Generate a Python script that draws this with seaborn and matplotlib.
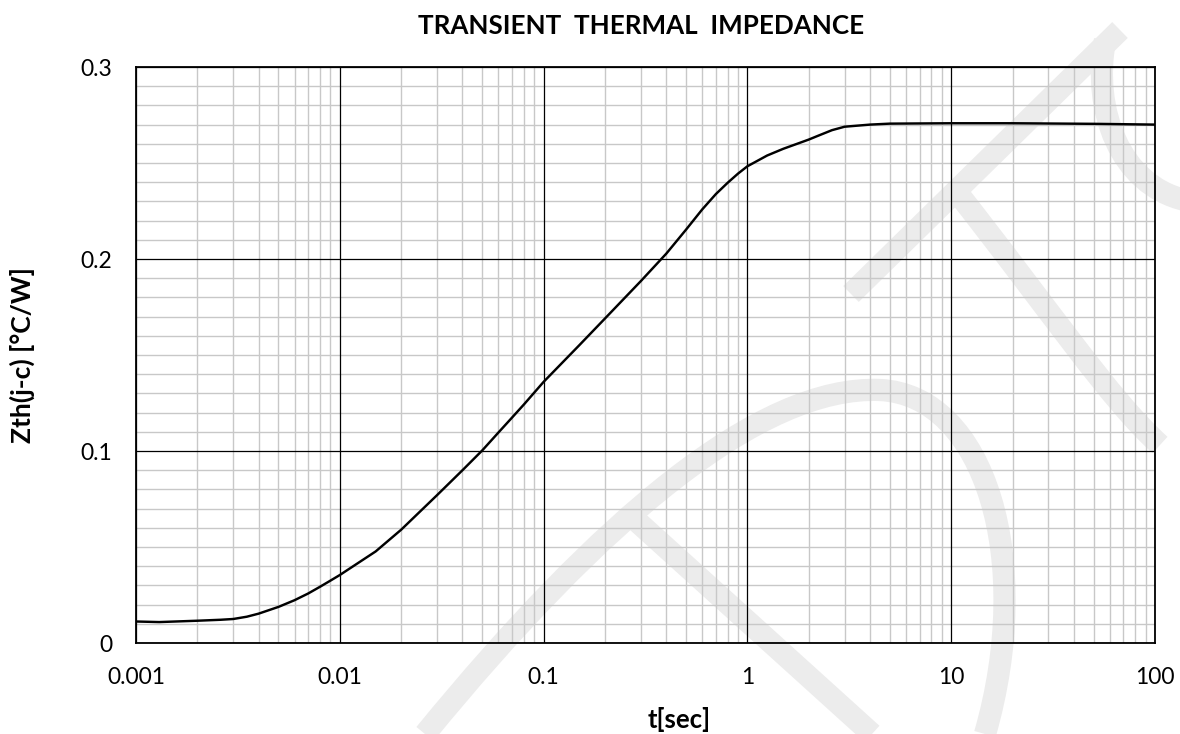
import matplotlib
matplotlib.use("Agg")
import matplotlib.pyplot as plt
import numpy as np
import pandas as pd
import seaborn as sns
from matplotlib.path import Path
from matplotlib.patches import PathPatch
from matplotlib.ticker import LogLocator, MultipleLocator, NullFormatter

# ---------------- data ----------------
t_sec = [0.001, 0.0013, 0.002, 0.0026, 0.003, 0.0035, 0.004, 0.005, 0.006, 0.007,
         0.008, 0.009, 0.01, 0.015, 0.02, 0.03, 0.04, 0.05, 0.06, 0.07,
         0.08, 0.1, 0.15, 0.2, 0.3, 0.4, 0.5, 0.6, 0.7, 0.8,
         0.9, 1.0, 1.25, 1.5, 2.0, 2.2, 2.6, 3.0, 4.0, 5.0,
         10.0, 20.0, 50.0, 100.0]
zth = [0.0112, 0.0109, 0.0116, 0.0121, 0.0125, 0.0137, 0.0153, 0.0188, 0.0223, 0.0258,
       0.0293, 0.0325, 0.0354, 0.0477, 0.0590, 0.0770, 0.0900, 0.1003, 0.1096, 0.1174,
       0.1242, 0.1360, 0.1552, 0.1690, 0.1885, 0.2028, 0.2153, 0.2258, 0.2338, 0.2397,
       0.2445, 0.2483, 0.2539, 0.2574, 0.2622, 0.2640, 0.2671, 0.2689, 0.2700, 0.2705,
       0.2707, 0.2707, 0.2704, 0.2700]

x_ticks = [0.001, 0.01, 0.1, 1, 10, 100]
x_tick_labels = ["0.001", "0.01", "0.1", "1", "10", "100"]
y_ticks = [0, 0.1, 0.2, 0.3]
y_tick_labels = ["0", "0.1", "0.2", "0.3"]

title = "TRANSIENT  THERMAL  IMPEDANCE"
x_label = "t[sec]"
y_label = "Zth(j-c) [°C/W]"

# ---------------- style ----------------
sns.set_theme(style="white")
plt.rcParams["font.family"] = ["Lato", "DejaVu Sans"]

W, H = 1180, 734
fig = plt.figure(figsize=(W / 100, H / 100), dpi=100)
fig.patch.set_facecolor("white")

# faint background watermark (decoration), in figure pixel coordinates
def px(x, y):
    return (x / W, 1 - y / H)

wm_paths = [
    Path([px(1120, 30), px(851, 294)], [Path.MOVETO, Path.LINETO]),
    Path([px(425, 734), px(600, 520), px(760, 385), px(880, 390),
          px(985, 395), px(1035, 560), px(985, 734)],
         [Path.MOVETO, Path.CURVE4, Path.CURVE4, Path.CURVE4,
          Path.CURVE4, Path.CURVE4, Path.CURVE4]),
    Path([px(630, 515), px(872, 734)], [Path.MOVETO, Path.LINETO]),
    Path([px(953, 187), px(1050, 310), px(1110, 400), px(1160, 445)],
         [Path.MOVETO, Path.CURVE4, Path.CURVE4, Path.CURVE4]),
    Path([px(1105, 40), px(1092, 110), px(1120, 185), px(1185, 200)],
         [Path.MOVETO, Path.CURVE4, Path.CURVE4, Path.CURVE4]),
]
for p in wm_paths:
    fig.add_artist(PathPatch(p, transform=fig.transFigure, fill=False,
                             edgecolor="#ececec", linewidth=16,
                             capstyle="butt", zorder=-5))

ax = fig.add_axes([136 / W, 1 - 643 / H, (1155 - 136) / W, (643 - 67) / H])
ax.set_facecolor("none")

df = pd.DataFrame({"t": t_sec, "zth": zth})
sns.lineplot(data=df, x="t", y="zth", color="black", linewidth=1.75,
             ax=ax, zorder=5, sort=True)

ax.set_xscale("log")
ax.set_xlim(0.001, 100)
ax.set_ylim(0, 0.3)
ax.set_xticks(x_ticks)
ax.set_xticklabels(x_tick_labels)
ax.set_yticks(y_ticks)
ax.set_yticklabels(y_tick_labels)
ax.xaxis.set_minor_locator(LogLocator(base=10, subs=np.arange(2, 10)))
ax.xaxis.set_minor_formatter(NullFormatter())
ax.yaxis.set_minor_locator(MultipleLocator(0.01))
ax.yaxis.set_minor_formatter(NullFormatter())

# minor grid from the axes, major grid drawn on top of it
ax.grid(which="minor", color="#c8c8c8", linewidth=1.0)
ax.grid(which="major", visible=False)
for xt in x_ticks:
    ax.axvline(xt, color="black", linewidth=0.9, zorder=3)
for yt in y_ticks:
    ax.axhline(yt, color="black", linewidth=0.9, zorder=3)

ax.tick_params(which="both", length=0, labelsize=16.5, colors="black")
ax.tick_params(axis="x", pad=17)
ax.tick_params(axis="y", pad=17)
for s in ax.spines.values():
    s.set_visible(True)
    s.set_color("black")
    s.set_linewidth(1.3)
    s.set_zorder(6)
ax.set_xlabel("")
ax.set_ylabel("")

fig.text(641 / W, 1 - 26 / H, title, ha="center", va="center",
         fontsize=18.7, fontweight="bold", color="black")
fig.text(679 / W, 1 - 719 / H, x_label, ha="center", va="center",
         fontsize=18.5, fontweight="bold", color="black")
fig.text(22 / W, 1 - 355 / H, y_label, ha="center", va="center",
         rotation=90, fontsize=19, fontweight="bold", color="black")

fig.savefig("out.png", dpi=100)
